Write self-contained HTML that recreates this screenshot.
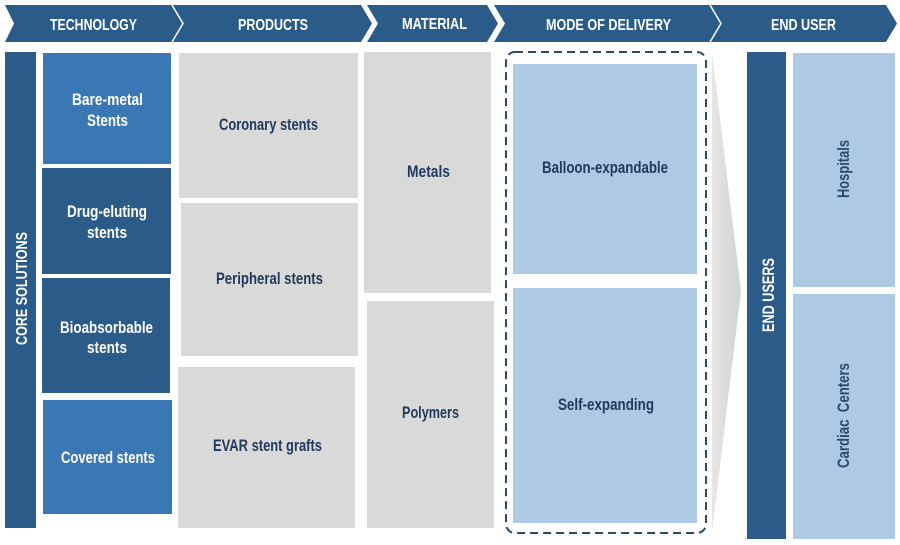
<!DOCTYPE html>
<html>
<head>
<meta charset="utf-8">
<style>
  html,body{margin:0;padding:0;background:#fff;}
  body{width:900px;height:545px;overflow:hidden;}
  svg{display:block;}
  text{font-family:"Liberation Sans Narrow","Liberation Sans",sans-serif;font-weight:bold;}
</style>
</head>
<body>
<svg width="900" height="545" viewBox="0 0 900 545" xmlns="http://www.w3.org/2000/svg">
  <defs>
    <linearGradient id="fun" x1="0" y1="0" x2="1" y2="0">
      <stop offset="0" stop-color="#e6e6e6"/>
      <stop offset="1" stop-color="#d2d2d2"/>
    </linearGradient>
  </defs>
  <!-- Header chevrons -->
  <g fill="#2b5b88">
    <polygon points="5,5 172,5 183,23.5 172,42 5,42 14,23.5"/>
    <polygon points="172,5 361,5 372,23.5 361,42 172,42 183,23.5"/>
    <polygon points="367,5 487,5 498,23.5 487,42 367,42 378,23.5"/>
    <polygon points="494,5 710,5 721,23.5 710,42 494,42 505,23.5"/>
    <polygon points="710,5 886,5 897,23.5 886,42 710,42 721,23.5"/>
  </g>
  <polyline points="172,5 183,23.5 172,42" fill="none" stroke="#fff" stroke-width="1.5"/>
  <polyline points="710,5 721,23.5 710,42" fill="none" stroke="#fff" stroke-width="1.5"/>
  <g fill="#fff" font-size="16" text-anchor="middle">
    <text x="93.5" y="30" textLength="87" lengthAdjust="spacingAndGlyphs">TECHNOLOGY</text>
    <text x="273" y="30" textLength="70" lengthAdjust="spacingAndGlyphs">PRODUCTS</text>
    <text x="434.5" y="29" textLength="65" lengthAdjust="spacingAndGlyphs">MATERIAL</text>
    <text x="608.5" y="30" textLength="125" lengthAdjust="spacingAndGlyphs">MODE OF DELIVERY</text>
    <text x="803.5" y="30" textLength="65" lengthAdjust="spacingAndGlyphs">END USER</text>
  </g>

  <!-- Core solutions bar -->
  <rect x="5" y="52" width="31" height="476" fill="#2b5b88"/>
  <text transform="translate(27,288.5) rotate(-90)" x="0" y="0" fill="#fff" font-size="16" text-anchor="middle" textLength="113" lengthAdjust="spacingAndGlyphs">CORE SOLUTIONS</text>

  <!-- Technology boxes -->
  <rect x="43" y="53" width="128" height="111" fill="#3a77b5"/>
  <rect x="42" y="168" width="129" height="106" fill="#2b5b88"/>
  <rect x="42" y="278" width="128" height="115" fill="#2b5b88"/>
  <rect x="43" y="400" width="129" height="114" fill="#3a77b5"/>
  <g fill="#fff" font-size="16.5" text-anchor="middle">
    <text x="107.5" y="105" textLength="71" lengthAdjust="spacingAndGlyphs">Bare-metal</text>
    <text x="107.5" y="126" textLength="41" lengthAdjust="spacingAndGlyphs">Stents</text>
    <text x="107" y="217" textLength="80" lengthAdjust="spacingAndGlyphs">Drug-eluting</text>
    <text x="107" y="238" textLength="40" lengthAdjust="spacingAndGlyphs">stents</text>
    <text x="106.5" y="333" textLength="93" lengthAdjust="spacingAndGlyphs">Bioabsorbable</text>
    <text x="107" y="353" textLength="40" lengthAdjust="spacingAndGlyphs">stents</text>
    <text x="108" y="463" textLength="94" lengthAdjust="spacingAndGlyphs">Covered stents</text>
  </g>

  <!-- Products -->
  <rect x="179" y="53" width="179" height="145" fill="#d9d9d9"/>
  <rect x="181" y="203" width="177" height="153" fill="#d9d9d9"/>
  <rect x="178" y="367" width="177" height="161" fill="#d9d9d9"/>
  <!-- Material -->
  <rect x="364" y="52" width="127" height="241" fill="#d9d9d9"/>
  <rect x="367" y="301" width="127" height="227" fill="#d9d9d9"/>
  <g fill="#1f3a5c" font-size="16.5" text-anchor="middle">
    <text x="268.5" y="130" textLength="99" lengthAdjust="spacingAndGlyphs">Coronary stents</text>
    <text x="269.5" y="284" textLength="107" lengthAdjust="spacingAndGlyphs">Peripheral stents</text>
    <text x="267.5" y="451" textLength="109" lengthAdjust="spacingAndGlyphs">EVAR stent grafts</text>
    <text x="428.5" y="177" textLength="43" lengthAdjust="spacingAndGlyphs">Metals</text>
    <text x="430.5" y="418" textLength="57" lengthAdjust="spacingAndGlyphs">Polymers</text>
  </g>

  <!-- Mode of delivery -->
  <rect x="506" y="52" width="200" height="481" rx="9" ry="9" fill="none" stroke="#2b4a6e" stroke-width="2" stroke-dasharray="8 5"/>
  <rect x="513" y="64" width="184" height="210" fill="#adc9e4"/>
  <rect x="513" y="288" width="184" height="235" fill="#adc9e4"/>
  <g fill="#1f3a5c" font-size="16.5" text-anchor="middle">
    <text x="605" y="173" textLength="126" lengthAdjust="spacingAndGlyphs">Balloon-expandable</text>
    <text x="606" y="410" textLength="96" lengthAdjust="spacingAndGlyphs">Self-expanding</text>
  </g>

  <!-- Gray funnel -->
  <polygon points="712,53 741,291 712,532" fill="url(#fun)"/>

  <!-- End users -->
  <rect x="747" y="52" width="39" height="487" fill="#2b5b88"/>
  <text transform="translate(774,295) rotate(-90)" x="0" y="0" fill="#fff" font-size="16.5" text-anchor="middle" textLength="74" lengthAdjust="spacingAndGlyphs">END USERS</text>
  <rect x="793" y="53" width="102" height="234" fill="#adc9e4"/>
  <rect x="793" y="294" width="102" height="245" fill="#adc9e4"/>
  <g fill="#2b4a6e" font-size="16.5" text-anchor="middle">
    <text transform="translate(849,169) rotate(-90)" x="0" y="0" textLength="58" lengthAdjust="spacingAndGlyphs">Hospitals</text>
    <text transform="translate(849,415.5) rotate(-90)" x="0" y="0" textLength="105" lengthAdjust="spacingAndGlyphs" xml:space="preserve">Cardiac  Centers</text>
  </g>
</svg>
</body>
</html>
